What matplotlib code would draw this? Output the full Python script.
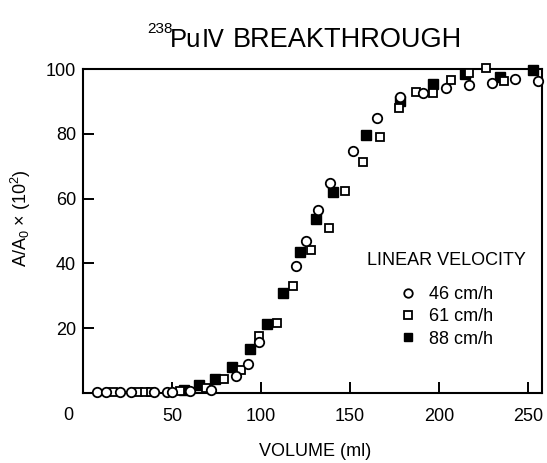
import matplotlib
matplotlib.use("Agg")
import matplotlib.pyplot as plt

plt.rcParams['font.family'] = ['Liberation Sans', 'DejaVu Sans']
plt.rcParams['mathtext.fontset'] = 'custom'
plt.rcParams['mathtext.rm'] = 'Liberation Sans'

# 46 cm/h (open circles)
v46_x = [8, 13, 21, 27, 40, 47, 50, 60, 72, 86, 93, 99, 119.5, 125.5, 132, 139,
         152, 165, 178, 191, 204, 217, 230, 243, 256]
v46_y = [0.4, 0.4, 0.4, 0.4, 0.4, 0.4, 0.4, 0.5, 0.9, 5.2, 9.0, 15.8, 39.2, 47.0,
         56.5, 64.9, 74.8, 85.0, 91.5, 92.5, 94.0, 95.0, 95.6, 96.8, 96.4]

# 61 cm/h (open squares)
v61_x = [17, 31, 35, 38, 54.5, 69, 79, 89, 99, 109, 118, 128, 138, 147.5, 157.5,
         167, 177.5, 187, 197, 207, 217, 226.5, 236.5]
v61_y = [0.4, 0.4, 0.4, 0.4, 0.5, 1.6, 4.3, 7.2, 17.5, 21.5, 33.0, 44.0, 50.8,
         62.3, 71.4, 79.0, 87.9, 93.0, 92.5, 96.6, 98.7, 100.3, 96.4]

# 88 cm/h (filled squares)
v88_x = [56.5, 65, 74, 84, 94, 103.5, 112.5, 122, 131, 140.5, 159, 178, 196.5,
         214.5, 234.5, 253]
v88_y = [0.8, 2.5, 4.2, 8.1, 13.7, 21.2, 30.8, 43.4, 53.6, 62.0, 79.6, 90.2, 95.4,
         98.4, 97.6, 99.6]

xticks = [50, 100, 150, 200, 250]
yticks = [20, 40, 60, 80, 100]

fig = plt.figure(figsize=(5.47, 4.63), dpi=100)
ax = fig.add_axes([83/547, 1-393/463, (542-83)/547, (393-69)/463])

ax.plot(v88_x, v88_y, 's', color='black', ms=6.5, clip_on=False, zorder=3,
        label='88 cm/h')
ax.plot(v61_x, v61_y, 's', mfc='white', mec='black', mew=1.3, ms=6.3,
        clip_on=False, zorder=4, label='61 cm/h')
ax.plot(v46_x, v46_y, 'o', mfc='white', mec='black', mew=1.3, ms=6.8,
        clip_on=False, zorder=5, label='46 cm/h')

ax.set_xlim(0, 258)
ax.set_ylim(0, 100)
ax.set_xticks(xticks)
ax.set_yticks(yticks)
ax.tick_params(direction='in', length=8, width=1.4, labelsize=13)
ax.tick_params(axis='x', pad=11)
ax.tick_params(axis='y', pad=5)
for s in ax.spines.values():
    s.set_linewidth(1.5)

fig.text(68/547, 1-415/463, '0', fontsize=13, ha='center', va='center')
ax.set_xlabel('VOLUME (ml)', fontsize=13)
ax.xaxis.set_label_coords(0.505, -0.155)
ax.set_ylabel(r'A/A$\mathregular{_0}$ × (10$\mathregular{^2}$)', fontsize=13)
ax.yaxis.set_label_coords(-0.11, 0.54)

# title in pieces: small mass number, roman numeral from DejaVu Sans
fig.text(147/547, 1-33/463, '238', fontsize=11, ha='left', va='baseline')
fig.text(170/547, 1-47/463, 'Pu', fontsize=18.5, ha='left', va='baseline')
fig.text(202/547, 1-47/463, 'Ⅳ', fontsize=17, family='DejaVu Sans',
         ha='left', va='baseline')
fig.text(233/547, 1-47/463, 'BREAKTHROUGH', fontsize=19.5, ha='left',
         va='baseline')

h, l = ax.get_legend_handles_labels()
leg = ax.legend(h[::-1], l[::-1], title='LINEAR VELOCITY', frameon=False,
                loc='center', bbox_to_anchor=(446/547, 1-300/463),
                bbox_transform=fig.transFigure, fontsize=13, title_fontsize=13,
                handlelength=1.0, handletextpad=0.7, labelspacing=0.3,
                markerscale=0.9)
leg._legend_box.sep = 12

fig.savefig('out.png', dpi=100)
